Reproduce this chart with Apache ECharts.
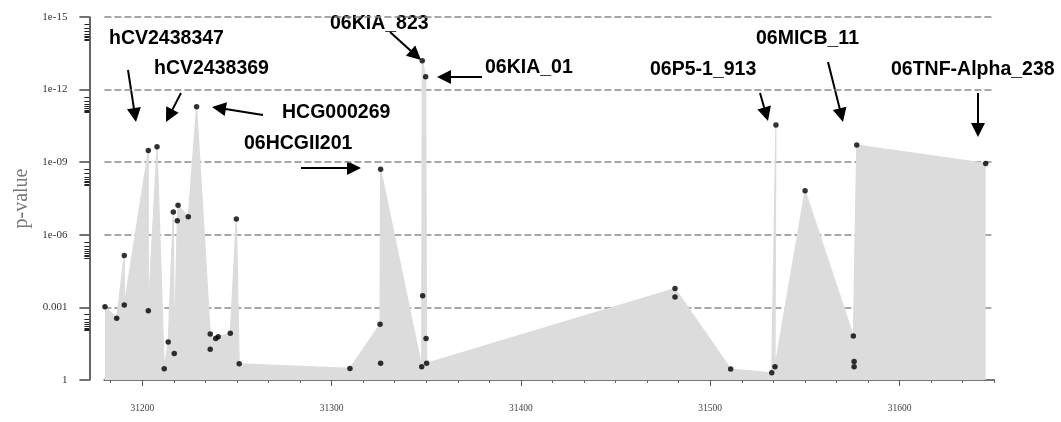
<!DOCTYPE html>
<html><head><meta charset="utf-8">
<script src="https://cdn.jsdelivr.net/npm/echarts@6/dist/echarts.min.js"></script>
<style>html,body{margin:0;padding:0;background:#fff}#c{width:1061px;height:422px}</style>
</head><body><div id="c"></div>
<script>
// Marker positions (kb) and -log10(p)
const positions = [31180.3,31186.5,31190.5,31190.5,31203.2,31203.2,31207.8,31211.6,31213.7,31216.4,
  31216.9,31218.5,31218.9,31224.3,31228.7,31235.9,31235.9,31238.8,31240.1,31246.5,
  31249.7,31251.2,31309.7,31325.6,31325.9,31325.9,31347.6,31347.9,31348.1,31349.7,
  31349.9,31350.2,31481.4,31481.4,31510.8,31532.5,31534.2,31534.7,31550.1,31575.6,
  31576.0,31576.0,31577.4,31645.5];
const negLog10P = [3.03,2.55,3.10,5.14,2.86,9.48,9.64,0.47,1.57,6.94,
  1.09,6.58,7.22,6.75,11.29,1.90,1.27,1.71,1.79,1.93,
  6.65,0.67,0.48,2.30,0.69,8.71,0.55,13.19,3.48,12.53,
  1.72,0.69,3.43,3.78,0.45,0.30,0.55,10.54,7.82,1.82,
  0.76,0.55,9.71,8.95];
// order of points that outline the shaded profile
const profileOrder = [0,1,3,2,5,4,6,7,8,9,10,11,12,13,14,15,17,18,19,20,21,22,23,25,26,27,29,31,33,34,35,37,36,38,39,42,43];
const yTickValues = [0,3,6,9,12,15];
const yTickLabels = ['1','0.001','1e-06','1e-09','1e-12','1e-15'];
const xLabelValues = [31200,31300,31400,31500,31600];
const annotationTexts = ['hCV2438347','hCV2438369','HCG000269','06HCGII201','06KIA_823','06KIA_01','06P5-1_913','06MICB_11','06TNF-Alpha_238'];

// layout of annotations (pixels): text left, text middle y, arrow tail, arrow tip
const annotationLayout = [
  [109,39, 128,70, 136,122],
  [154,69, 181,93, 166,122],
  [282,113, 263,115, 212,107],
  [244,144, 301,168, 361,168],
  [330,24, 390,32, 421,60],
  [485,68, 482,77, 437,77],
  [650,70, 760,93, 768,121],
  [756,39, 828,62, 843,122],
  [891,70, 978,93, 978,137]
];

const xMinor = [];
for (let i = 0; i <= 28; i++) xMinor.push(+(31183.333 + i * 100 / 6).toFixed(3));
const yMinor = [];
[15,12,9,6,3].forEach(m => { for (let k = 2; k <= 9; k++) yMinor.push(m - Math.log10(k)); });

const points = positions.map((x, i) => [x, negLog10P[i]]);
const profile = profileOrder.map(i => points[i]);

function arrow(x1, y1, x2, y2) {
  const dx = x2 - x1, dy = y2 - y1, len = Math.hypot(dx, dy);
  const ux = dx / len, uy = dy / len, hl = 14, hw = 7;
  const bx = x2 - ux * hl, by = y2 - uy * hl, px = -uy, py = ux;
  return [
    {type: 'line', shape: {x1: x1, y1: y1, x2: bx + ux * 2, y2: by + uy * 2}, style: {stroke: '#000', lineWidth: 2}},
    {type: 'polygon', shape: {points: [[x2, y2], [bx + px * hw, by + py * hw], [bx - px * hw, by - py * hw]]}, style: {fill: '#000'}}
  ];
}
const graphics = [];
annotationTexts.forEach((t, i) => {
  const L = annotationLayout[i];
  graphics.push({type: 'text', x: L[0], y: L[1], style: {text: t, fontSize: 19.5, fontWeight: 'bold', fontFamily: '"Liberation Sans", Arial, sans-serif', fill: '#000', verticalAlign: 'middle', align: 'left'}});
  arrow(L[2], L[3], L[4], L[5]).forEach(g => graphics.push(g));
});

const serif = '"Liberation Serif", "DejaVu Serif", serif';
const chart = echarts.init(document.getElementById('c'), null, {renderer: 'canvas'});
chart.setOption({
  animation: false,
  backgroundColor: '#fff',
  grid: {left: 104.4, right: 66.8, top: 17, bottom: 42},
  xAxis: [
    {type: 'value', min: 31180, max: 31650, offset: 15,
     axisLine: {show: true, lineStyle: {color: '#777', width: 2}},
     axisTick: {show: true, customValues: xMinor, length: 3, lineStyle: {color: '#666', width: 1}},
     axisLabel: {show: false}, splitLine: {show: false}},
    {type: 'value', min: 31180, max: 31650, offset: 15, position: 'bottom',
     axisLine: {show: false},
     axisTick: {show: true, customValues: xLabelValues, length: 6, lineStyle: {color: '#555', width: 1}},
     axisLabel: {show: true, customValues: xLabelValues, fontSize: 9.5, fontFamily: serif, color: '#444', margin: 8,
       formatter: v => String(Math.round(v))},
     splitLine: {show: false}}
  ],
  yAxis: [
    {type: 'value', min: 0, max: 15, interval: 3, offset: 15,
     name: 'p-value', nameLocation: 'middle', nameGap: 53, nameRotate: 90,
     nameTextStyle: {fontFamily: serif, fontSize: 20, color: '#777'},
     axisLine: {show: true, lineStyle: {color: '#333', width: 1.5}},
     axisTick: {show: true, length: 10, lineStyle: {color: '#444', width: 1.5}},
     axisLabel: {fontSize: 11, fontFamily: serif, color: '#333', margin: 22,
       formatter: v => { const i = yTickValues.indexOf(v); return i >= 0 ? yTickLabels[i] : ''; }},
     splitLine: {show: true, lineStyle: {color: '#8a8a8a', width: 1.5, type: [7, 3]}}},
    {type: 'value', min: 0, max: 15, offset: 15, position: 'left',
     axisLine: {show: false},
     axisTick: {show: true, customValues: yMinor, length: 5, lineStyle: {color: '#222', width: 1}},
     axisLabel: {show: false}, splitLine: {show: false}}
  ],
  series: [
    {type: 'line', data: profile, xAxisIndex: 0, yAxisIndex: 0, showSymbol: false, silent: true,
     lineStyle: {color: '#dcdcdc', width: 1.2}, areaStyle: {color: '#dcdcdc', opacity: 1, origin: 'start'}, z: 2},
    {type: 'scatter', data: points, xAxisIndex: 0, yAxisIndex: 0, symbol: 'circle', symbolSize: 5.5,
     itemStyle: {color: '#000'}, z: 3}
  ],
  graphic: graphics
});
</script></body></html>
